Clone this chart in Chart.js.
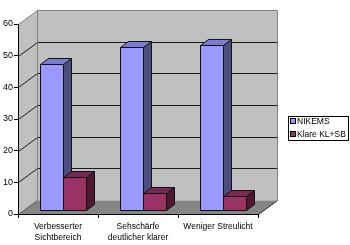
<!DOCTYPE html>
<html>
<head>
<meta charset="utf-8">
<script src="https://cdn.jsdelivr.net/npm/chart.js@4"></script>
<style>
    html, body { margin: 0; padding: 0; background: #fff; }
    #wrap { width: 350px; height: 245px; }
</style>
</head>
<body>
<div id="wrap"><canvas id="chart" width="350" height="245"></canvas></div>
<script>
const categories = [['Verbesserter', 'Sichtbereich'], ['Sehschärfe', 'deutlicher klarer'], 'Weniger Streulicht']
const seriesNames = ['NIKEMS', 'Klare KL+SB']
const nikemsValues = [46, 51.5, 52]
const klareValues = [10.5, 5.5, 4.5]
const yMin = 0
const yMax = 60
const yStep = 10

/*depth offsets of the fake 3d*/
const wallDepth = { x: 19, y: -14 }
const barShift = { x: 5, y: -4 }
const barDepth = { x: 8, y: -6 }

const faces = [
    { front: '#9999ff', top: '#7b7bd3', side: '#4d4d80' },
    { front: '#993366', top: '#7a2952', side: '#4d1933' }
]

function poly(ctx, pts, fill, stroke){
    ctx.beginPath()
    ctx.moveTo(pts[0][0], pts[0][1])
    for(let i = 1; i < pts.length; i++) ctx.lineTo(pts[i][0], pts[i][1])
    ctx.closePath()
    if(fill){ ctx.fillStyle = fill; ctx.fill() }
    if(stroke){ ctx.strokeStyle = stroke; ctx.lineWidth = 1; ctx.stroke() }
}

function line(ctx, pts, color){
    ctx.beginPath()
    ctx.moveTo(pts[0][0], pts[0][1])
    for(let i = 1; i < pts.length; i++) ctx.lineTo(pts[i][0], pts[i][1])
    ctx.strokeStyle = color
    ctx.lineWidth = 1
    ctx.stroke()
}

const walls3d = {
    id: 'walls3d',
    beforeDraw(chart){
        const ctx = chart.ctx
        const a = chart.chartArea
        const ys = chart.scales.y
        const L = a.left + 0.5, R = a.right + 0.5, T = a.top + 0.5, B = a.bottom + 0.5
        const dx = wallDepth.x, dy = wallDepth.y
        ctx.save()
        //left wall, back wall, floor
        poly(ctx, [[L, T], [L + dx, T + dy], [L + dx, B + dy], [L, B]], '#c0c0c0')
        poly(ctx, [[L + dx, T + dy], [R + dx, T + dy], [R + dx, B + dy], [L + dx, B + dy]], '#c0c0c0')
        poly(ctx, [[L, B], [R, B], [R + dx, B + dy], [L + dx, B + dy]], '#858585')

        //grid lines on the walls
        for(let v = yMin + yStep; v < yMax; v += yStep){
            const y = Math.round(ys.getPixelForValue(v)) + 0.5
            line(ctx, [[L, y], [L + dx, y + dy], [R + dx, y + dy]], '#1a1a1a')
        }
        line(ctx, [[L, T], [L + dx, T + dy], [R + dx, T + dy], [R + dx, B + dy]], '#808080')
        line(ctx, [[L + dx, T + dy], [L + dx, B + dy]], '#808080')
        line(ctx, [[L, B], [L + dx, B + dy]], '#555')
        line(ctx, [[R, B], [R + dx, B + dy]], '#222')
        ctx.restore()
    },
    beforeDatasetsDraw(chart){
        const ctx = chart.ctx
        ctx.save()
        chart.data.datasets.forEach(function(ds, di){
            const meta = chart.getDatasetMeta(di)
            const f = faces[di]
            meta.data.forEach(function(bar){
                const l = Math.round(bar.x - bar.width / 2 + barShift.x) + 0.5
                const r = Math.round(bar.x + bar.width / 2 + barShift.x) + 0.5
                const t = Math.round(bar.y + barShift.y) + 0.5
                const b = Math.round(bar.base + barShift.y) + 0.5
                const dx = barDepth.x, dy = barDepth.y
                poly(ctx, [[r, t], [r + dx, t + dy], [r + dx, b + dy], [r, b]], f.side, '#111')
                poly(ctx, [[l, t], [l + dx, t + dy], [r + dx, t + dy], [r, t]], f.top, '#111')
                poly(ctx, [[l, t], [r, t], [r, b], [l, b]], f.front, '#111')
            })
        })
        ctx.restore()
        return false
    },
    afterDraw(chart){
        const ctx = chart.ctx
        ctx.save()
        ctx.fillStyle = '#fff'
        ctx.fillRect(288.5, 116.5, 60, 24)
        ctx.strokeStyle = '#000'
        ctx.lineWidth = 1
        ctx.strokeRect(288.5, 116.5, 60, 24)
        ctx.font = '8.5px "Liberation Sans", Arial, sans-serif'
        ctx.textBaseline = 'middle'
        chart.data.datasets.forEach(function(ds, i){
            const y = 121 + i * 13
            ctx.fillStyle = ds.backgroundColor
            ctx.fillRect(290.5, y - 2.5, 5, 5)
            ctx.strokeStyle = '#000'
            ctx.strokeRect(290.5, y - 2.5, 5, 5)
            ctx.fillStyle = '#000'
            ctx.fillText(ds.label, 297, y + 0.5)
        })
        ctx.restore()
    }
}

Chart.defaults.font.family = '"Liberation Sans", Arial, sans-serif'
Chart.defaults.font.size = 9
Chart.defaults.color = '#000'

new Chart(document.getElementById('chart').getContext('2d'), {
    type: 'bar',
    data: {
        labels: categories,
        datasets: [
            { label: seriesNames[0], data: nikemsValues, backgroundColor: faces[0].front },
            { label: seriesNames[1], data: klareValues, backgroundColor: faces[1].front }
        ]
    },
    options: {
        responsive: false,
        animation: false,
        events: [],
        layout: { padding: { top: 24, right: 92, left: 0, bottom: 0 } },
        plugins: { legend: { display: false }, tooltip: { enabled: false } },
        datasets: { bar: { categoryPercentage: 0.58, barPercentage: 1 } },
        scales: {
            x: {
                afterFit(scale){ scale.height = 31 },
                grid: { drawOnChartArea: false, tickLength: 4, color: '#000', offset: true },
                border: { color: '#000' },
                ticks: { padding: 4, maxRotation: 0, autoSkip: false, font: { size: 8.5 } }
            },
            y: {
                min: yMin,
                max: yMax,
                afterFit(scale){ scale.width = 18 },
                grid: { drawOnChartArea: false, tickLength: 4, color: '#000' },
                border: { color: '#000' },
                ticks: { stepSize: yStep, padding: 1 }
            }
        }
    },
    plugins: [walls3d]
})
</script>
</body>
</html>
